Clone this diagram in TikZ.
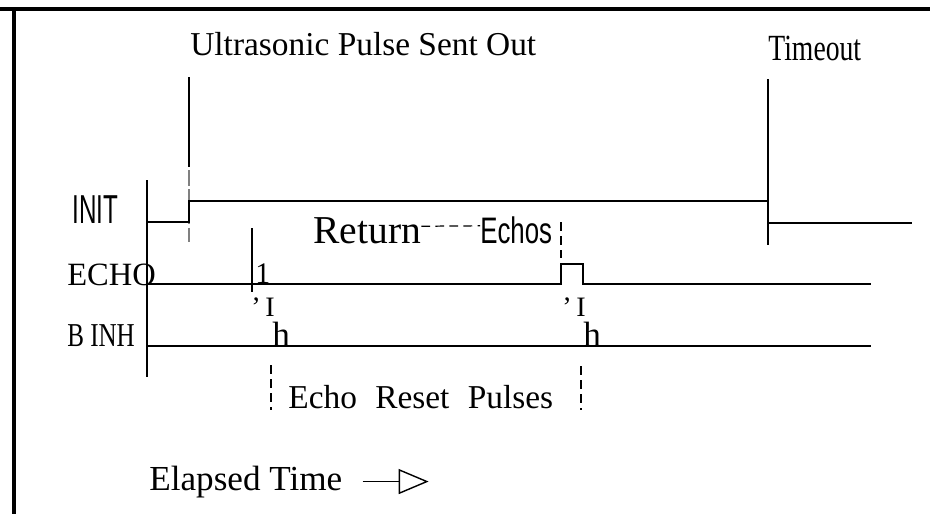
\documentclass[tikz,border=0pt]{standalone}
\usepackage{fontspec}
\setmainfont{Liberation Serif}
\newfontfamily\narrowsans[FakeStretch=0.7]{Liberation Sans}
\newfontfamily\tallsans[FakeStretch=0.6]{Liberation Sans}
\newfontfamily\narrowserif[FakeStretch=0.75]{Liberation Serif}
\newfontfamily\wideserif[WordSpace=2.2]{Liberation Serif}
\usetikzlibrary{arrows.meta}

\tikzset{
  lbl/.style={inner sep=0pt, anchor=base west, font=\fontsize{19}{22}\selectfont},
  small/.style={inner sep=0pt, anchor=base west, font=\fontsize{16}{18}\selectfont},
  sig/.style={line width=1.6pt},
  marker/.style={line width=0.8pt},
  leader/.style={line width=0.7pt, dash pattern=on 5pt off 3pt}
}

\begin{document}
\begin{tikzpicture}[x=0.02cm,y=-0.02cm]
\useasboundingbox (0,0) rectangle (930,514);

% frame
\draw[line width=2.4pt] (0,9) -- (930,9);
\draw[line width=2.8pt] (14,8) -- (14,514);

% labels
\node[lbl] (sent) at (190,55) {Ultrasonic Pulse Sent Out};
\node[lbl, font=\narrowserif\fontsize{21}{24}\selectfont] (tout) at (768,60) {Timeout};
\node[lbl, font=\tallsans\fontsize{23}{26}\selectfont] (init) at (72,223) {INIT};
\node[lbl, font=\fontsize{18.5}{20}\selectfont] (echo) at (67,285) {ECHO};
\node[lbl, font=\narrowserif\fontsize{19}{22}\selectfont] (binh) at (67,346) {B INH};

% time markers
\draw[marker] (189,77) -- (189,167);
\draw[marker, gray, dash pattern=on 9pt off 2pt] (189,170) -- (189,242);
\draw[marker] (768,79) -- (768,245);
\draw[line width=1.2pt] (147,180) -- (147,377);

% waveforms
\draw[sig, line width=1.3pt] (147,222) -- (189,222) -- (189,201) -- (768,201) -- (768,223) -- (912,223);
\draw[sig] (147,284) -- (561,284) -- (561,264) -- (583,264) -- (583,284) -- (871,284);
\draw[sig] (147,346) -- (871,346);

% return echos
\node[lbl, font=\fontsize{22.5}{24}\selectfont] (ret) at (313,243) {Return};
\node[lbl, font=\narrowsans\fontsize{21}{23}\selectfont] (echos) at (480,243) {Echos};
\draw[leader] ([yshift=0.08cm]ret.east) -- ([yshift=0.08cm]echos.west);
\draw[leader] (561,222) -- (561,258);

\draw[marker] (252,228) -- (252,292);
\node[small, font=\fontsize{17}{19}\selectfont] (one) at (255,283) {1};
\node[small] (ia) at (251,316) {'\,I};
\node[lbl, font=\fontsize{20}{22}\selectfont] (ha) at (272,346) {h};
\node[small] (ib) at (562,316) {'\,I};
\node[lbl, font=\fontsize{20}{22}\selectfont] (hb) at (583,346) {h};

% reset pulses
\node[lbl, font=\wideserif\fontsize{19}{22}\selectfont] (rst) at (288,408) {Echo Reset Pulses};
\draw[leader] (271,365) -- (271,410);
\draw[leader] (581,366) -- (581,410);

% time axis
\node[lbl, font=\fontsize{20}{22}\selectfont] (el) at (149,490) {Elapsed Time};
\draw[line width=0.8pt, -{Triangle[open, length=0.6cm, width=0.5cm, line width=0.8pt]}] ([xshift=0.4cm]el.east) -- ++(66,0);
\end{tikzpicture}
\end{document}
